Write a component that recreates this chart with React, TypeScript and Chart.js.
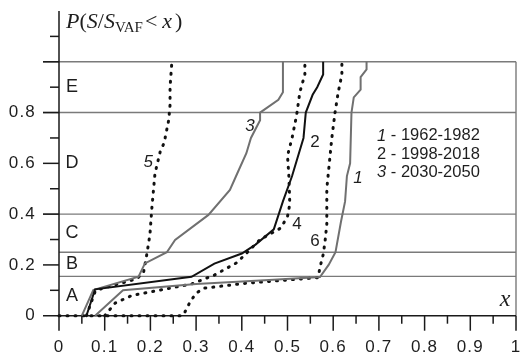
import React, { useEffect, useRef } from 'react';
import { Chart, registerables } from 'chart.js';

Chart.register(...registerables);

// ---- data ----
const xTickLabels = ['0', '0.1', '0.2', '0.3', '0.4', '0.5', '0.6', '0.7', '0.8', '0.9', '1'];
const yTickLabels = ['0', '0.2', '0.4', '0.6', '0.8'];
const zoneBounds = [0, 0.155, 0.25, 0.4, 0.8, 1.0];
const zoneNames = ['A', 'B', 'C', 'D', 'E'];
const legendNumbers = ['1', '2', '3'];
const legendPeriods = [' - 1962-1982', ' - 1998-2018', ' - 2030-2050'];
const curveNames = ['1', '2', '3', '4', '5', '6'];
const curveNameAnchors = [
  [0.654, 0.543],
  [0.56, 0.681],
  [0.418, 0.748],
  [0.521, 0.361],
  [0.195, 0.606],
  [0.56, 0.294],
];

const series1 = [
  [0.079, 0], [0.14, 0.1], [0.3, 0.125], [0.45, 0.14], [0.571, 0.152], [0.59, 0.2], [0.605, 0.25],
  [0.617, 0.37], [0.626, 0.45], [0.63, 0.55], [0.637, 0.6], [0.64, 0.8], [0.645, 0.86], [0.66, 0.89],
  [0.66, 0.94], [0.673, 0.97], [0.673, 1.0],
];
const series2 = [
  [0.06, 0], [0.079, 0.104], [0.29, 0.153], [0.34, 0.205], [0.4, 0.245], [0.43, 0.28], [0.47, 0.34],
  [0.49, 0.45], [0.51, 0.55], [0.535, 0.7], [0.54, 0.8], [0.555, 0.87], [0.565, 0.9], [0.578, 0.95],
  [0.578, 1.0],
];
const series3 = [
  [0.05, 0], [0.075, 0.101], [0.174, 0.154], [0.188, 0.206], [0.236, 0.25], [0.254, 0.298],
  [0.327, 0.397], [0.374, 0.495], [0.39, 0.56], [0.41, 0.64], [0.42, 0.7], [0.44, 0.77], [0.44, 0.8],
  [0.48, 0.85], [0.49, 0.88], [0.49, 1.0],
];
const series4 = [
  [0.1, 0], [0.107, 0.015], [0.123, 0.05], [0.16, 0.08], [0.29, 0.125], [0.34, 0.16], [0.39, 0.21],
  [0.44, 0.3], [0.485, 0.345], [0.5, 0.39], [0.505, 0.44], [0.503, 0.55], [0.5, 0.63], [0.51, 0.7],
  [0.52, 0.79], [0.527, 0.88], [0.538, 0.95], [0.538, 1.0],
];
const series5 = [
  [0.06, 0], [0.08, 0.1], [0.17, 0.145], [0.185, 0.17], [0.192, 0.24], [0.199, 0.32], [0.203, 0.42],
  [0.21, 0.56], [0.222, 0.65], [0.23, 0.68], [0.24, 0.77], [0.243, 0.83], [0.243, 0.9], [0.247, 1.0],
];
const series6 = [
  [0, 0], [0.27, 0], [0.276, 0.016], [0.287, 0.055], [0.3, 0.088], [0.316, 0.108], [0.41, 0.128],
  [0.567, 0.15], [0.571, 0.19], [0.578, 0.24], [0.582, 0.29], [0.586, 0.36], [0.586, 0.5],
  [0.597, 0.7], [0.604, 0.8], [0.611, 0.88], [0.619, 0.95], [0.619, 1.0],
];

const SANS = '"Liberation Sans", Arial, sans-serif';
const SERIF = '"Liberation Serif", "Times New Roman", serif';
const TEXT = '#1e1e1e';

const toPts = (s: number[][]) => s.map(([x, y]) => ({ x, y }));

const decorPlugin = {
  id: 'decor',
  beforeDraw(chart: any) {
    (chart.ctx as any).letterSpacing = '1.2px';
  },
  afterDraw(chart: any) {
    (chart.ctx as any).letterSpacing = '0px';
  },
  beforeDatasetsDraw(chart: any) {
    const ctx = chart.ctx;
    const xs = chart.scales.x;
    const ys = chart.scales.y;
    const X = (v: number) => xs.getPixelForValue(v);
    const Y = (v: number) => ys.getPixelForValue(v);
    ctx.save();
    // zone lines
    ctx.strokeStyle = '#7a7a7a';
    ctx.lineWidth = 1.4;
    zoneBounds.slice(1).forEach((b) => {
      const major = Math.abs(b * 5 - Math.round(b * 5)) < 1e-6;
      ctx.beginPath();
      ctx.moveTo(major ? X(0) - 16 : X(0), Y(b));
      ctx.lineTo(X(1), Y(b));
      ctx.stroke();
    });
    // right border
    ctx.beginPath();
    ctx.moveTo(X(1), Y(0));
    ctx.lineTo(X(1), Y(1));
    ctx.stroke();

    // axes
    ctx.strokeStyle = '#1a1a1a';
    ctx.lineWidth = 1.5;
    ctx.beginPath();
    ctx.moveTo(X(0), Y(1.2));
    ctx.lineTo(X(0), Y(0) + 15);
    ctx.moveTo(X(0) - 16, Y(0));
    ctx.lineTo(X(1), Y(0));
    ctx.stroke();
    // y ticks
    for (let i = 1; i <= 11; i++) {
      const v = i / 10;
      const len = i % 2 === 0 ? 16 : 9;
      ctx.beginPath();
      ctx.moveTo(X(0) - len, Y(v));
      ctx.lineTo(X(0), Y(v));
      ctx.stroke();
    }
    // x ticks
    for (let i = 1; i <= 20; i++) {
      const v = i / 20;
      const len = i % 2 === 0 ? 15 : 8;
      ctx.beginPath();
      ctx.moveTo(X(v), Y(0));
      ctx.lineTo(X(v), Y(0) + len);
      ctx.stroke();
    }
    ctx.restore();
  },
  afterDatasetsDraw(chart: any) {
    const ctx = chart.ctx;
    const xs = chart.scales.x;
    const ys = chart.scales.y;
    const X = (v: number) => xs.getPixelForValue(v);
    const Y = (v: number) => ys.getPixelForValue(v);
    ctx.save();
    (ctx as any).letterSpacing = '0px';
    ctx.fillStyle = TEXT;
    ctx.textBaseline = 'middle';

    // zone letters
    ctx.font = `18px ${SANS}`;
    ctx.textAlign = 'center';
    zoneNames.forEach((n, i) => {
      const mid = (zoneBounds[i] + zoneBounds[i + 1]) / 2;
      ctx.fillText(n, X(0) + 13, Y(mid));
    });

    // curve labels
    curveNames.forEach((n, i) => {
      const italic = n === '1' || n === '3' || n === '5';
      ctx.font = `${italic ? 'italic ' : ''}17px ${SANS}`;
      const [ax, ay] = curveNameAnchors[i];
      ctx.fillText(n, X(ax), Y(ay));
    });

    // legend
    ctx.textAlign = 'left';
    legendNumbers.forEach((n, i) => {
      const y = Y(0.708 - i * 0.072);
      const italic = n !== '2';
      ctx.font = `${italic ? 'italic ' : ''}16.5px ${SANS}`;
      const x0 = X(0.696);
      ctx.fillText(n, x0, y);
      const w = ctx.measureText(n).width;
      ctx.font = `16.5px ${SANS}`;
      ctx.fillText(legendPeriods[i], x0 + w, y);
    });

    // axis name x
    ctx.font = `italic 24px ${SERIF}`;
    ctx.textAlign = 'center';
    ctx.textBaseline = 'alphabetic';
    ctx.fillText('x', X(1) - 11, Y(0) - 10);

    // title P(S/S_VAF < x)
    const pieces: [string, string, number][] = [
      ['P', `italic 22px ${SERIF}`, 0],
      ['(', `22px ${SERIF}`, 0],
      ['S', `italic 22px ${SERIF}`, 0],
      ['/', `22px ${SERIF}`, 0],
      ['S', `italic 22px ${SERIF}`, 0],
      ['VAF', `15px ${SERIF}`, 4],
      ['<', `22px ${SERIF}`, 0],
      ['x', `italic 22px ${SERIF}`, 0],
      [')', `22px ${SERIF}`, 0],
    ];
    const gaps = [0, 0, 0, 0, 0, 0, 2, 5, 3];
    let tx = X(0) + 7;
    const base = chart.chartArea.top + 17;
    ctx.textAlign = 'left';
    pieces.forEach(([t, f, dy], i) => {
      tx += gaps[i];
      ctx.font = f;
      ctx.fillText(t, tx, base + dy);
      tx += ctx.measureText(t).width;
    });
    ctx.restore();
  },
};

export default function App() {
  const ref = useRef<HTMLCanvasElement | null>(null);
  useEffect(() => {
    if (!ref.current) return;
    const grey = '#707070';
    const dotted = (data: number[][]) => ({
      data: toPts(data),
      borderColor: '#111',
      borderWidth: 3,
      borderDash: [1, 7],
      borderCapStyle: 'round',
      pointRadius: 0,
      showLine: true,
      tension: 0,
      clip: false,
    });
    const solid = (data: number[][], color: string) => ({
      data: toPts(data),
      borderColor: color,
      borderWidth: 2,
      pointRadius: 0,
      showLine: true,
      tension: 0,
      clip: false,
    });
    const chart = new Chart(ref.current, {
      type: 'scatter',
      data: {
        datasets: [
          solid(series1, grey),
          solid(series2, '#111'),
          solid(series3, grey),
          dotted(series4),
          dotted(series5),
          dotted(series6),
        ] as any,
      },
      options: {
        responsive: false,
        animation: false,
        layout: { padding: { left: 0, right: 4, top: 11, bottom: 0 } },
        plugins: { legend: { display: false }, tooltip: { enabled: false }, title: { display: false } },
        scales: {
          x: {
            type: 'linear',
            min: 0,
            max: 1,
            grid: { display: false, drawTicks: false },
            border: { display: false },
            ticks: {
              stepSize: 0.1,
              autoSkip: false,
              maxRotation: 0,
              padding: 21,
              color: TEXT,
              font: { family: SANS, size: 17 },
              callback: (v: any) => {
                const i = Math.round(Number(v) * 10);
                return Math.abs(Number(v) * 10 - i) < 1e-6 ? xTickLabels[i] : '';
              },
            },
            afterFit: (s: any) => {
              s.height = 39.3;
              s.paddingLeft = 0;
              s.paddingRight = 0;
            },
          },
          y: {
            type: 'linear',
            min: 0,
            max: 1.2,
            grid: { display: false, drawTicks: false },
            border: { display: false },
            ticks: {
              stepSize: 0.2,
              autoSkip: false,
              padding: 23,
              color: TEXT,
              font: { family: SANS, size: 17 },
              callback: (v: any) => {
                const i = Math.round(Number(v) * 5);
                return i < yTickLabels.length ? yTickLabels[i] : '';
              },
            },
            afterFit: (s: any) => {
              s.width = 59;
              s.paddingTop = 0;
              s.paddingBottom = 0;
            },
          },
        },
      },
      plugins: [decorPlugin],
    });
    return () => chart.destroy();
  }, []);
  return (
    <div style={{ position: 'absolute', left: 0, top: 0, width: 520, height: 355, background: '#fff' }}>
      <canvas ref={ref} width={520} height={355} />
    </div>
  );
}
